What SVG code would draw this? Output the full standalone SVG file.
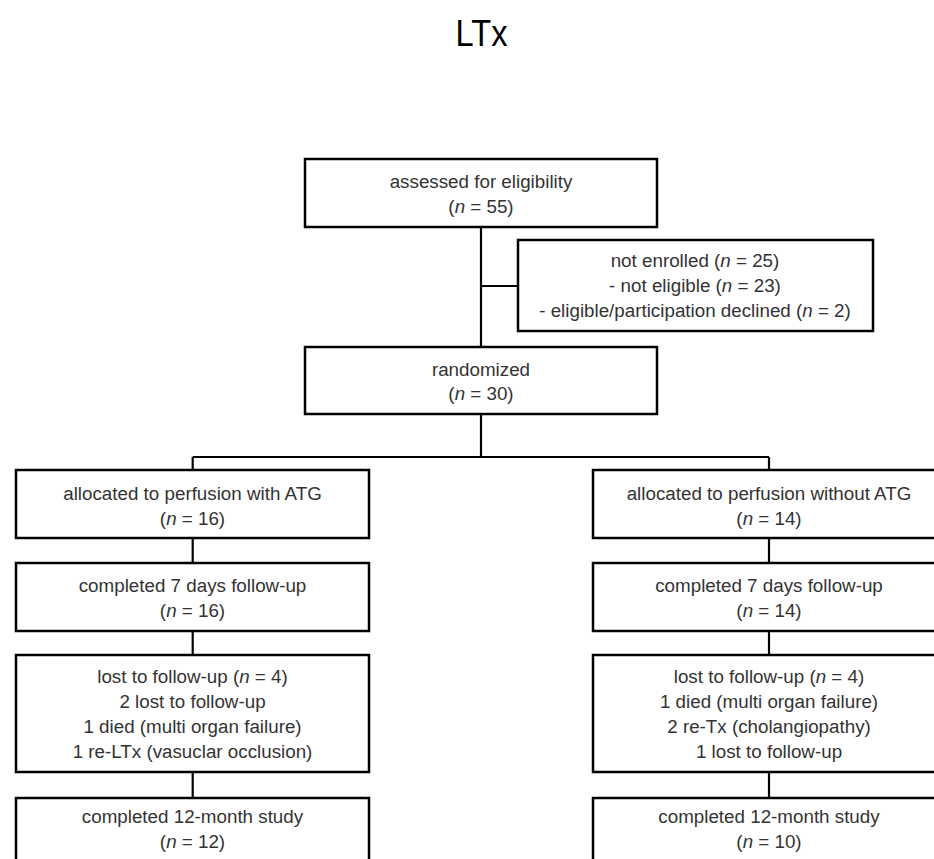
<svg xmlns="http://www.w3.org/2000/svg" width="934" height="859" viewBox="0 0 934 859">
<style>
.box{fill:#fff;stroke:#000;stroke-width:2.5}
.ln{fill:none;stroke:#000;stroke-width:2.2}
text{font-family:"Liberation Sans",Arial,sans-serif;font-size:18.8px;fill:#333;text-anchor:middle}
.t{font-size:37px;fill:#000}
.i{font-style:italic}
</style>
<rect width="934" height="859" fill="#fff"/>
<text class="t" x="481.5" y="46" textLength="52" lengthAdjust="spacingAndGlyphs">LTx</text>
<g id="connectors">
<path class="ln" d="M481 227V347M481 286H518M481 414V457M192.7 457H769M192.7 457V470M769 457V470M192.7 538V563M192.7 631V655M192.7 772V798M769 538V563M769 631V655M769 772V798"/>
</g>
<g id="assessed">
<rect class="box" x="305" y="159" width="352" height="68"/>
<text x="481" y="188">assessed for eligibility</text>
<text x="481" y="213">(<tspan class="i">n</tspan> = 55)</text>
</g>
<g id="not-enrolled">
<rect class="box" x="518" y="240" width="355" height="91"/>
<text x="695" y="267">not enrolled (<tspan class="i">n</tspan> = 25)</text>
<text x="695" y="292">- not eligible (<tspan class="i">n</tspan> = 23)</text>
<text x="695" y="317">- eligible/participation declined (<tspan class="i">n</tspan> = 2)</text>
</g>
<g id="randomized">
<rect class="box" x="305" y="347" width="352" height="67"/>
<text x="481" y="376">randomized</text>
<text x="481" y="400">(<tspan class="i">n</tspan> = 30)</text>
</g>
<g id="alloc-atg">
<rect class="box" x="16" y="470" width="353" height="68"/>
<text x="192.5" y="500">allocated to perfusion with ATG</text>
<text x="192.5" y="525">(<tspan class="i">n</tspan> = 16)</text>
</g>
<g id="d7-atg">
<rect class="box" x="16" y="563" width="353" height="68"/>
<text x="192.5" y="592">completed 7 days follow-up</text>
<text x="192.5" y="617">(<tspan class="i">n</tspan> = 16)</text>
</g>
<g id="lost-atg">
<rect class="box" x="16" y="655" width="353" height="117"/>
<text x="192.5" y="683">lost to follow-up (<tspan class="i">n</tspan> = 4)</text>
<text x="192.5" y="708">2 lost to follow-up</text>
<text x="192.5" y="733">1 died (multi organ failure)</text>
<text x="192.5" y="758">1 re-LTx (vasuclar occlusion)</text>
</g>
<g id="m12-atg">
<rect class="box" x="16" y="798" width="353" height="80"/>
<text x="192.5" y="823">completed 12-month study</text>
<text x="192.5" y="848">(<tspan class="i">n</tspan> = 12)</text>
</g>
<g id="alloc-no">
<rect class="box" x="593" y="470" width="353" height="68"/>
<text x="769" y="500">allocated to perfusion without ATG</text>
<text x="769" y="525">(<tspan class="i">n</tspan> = 14)</text>
</g>
<g id="d7-no">
<rect class="box" x="593" y="563" width="353" height="68"/>
<text x="769" y="592">completed 7 days follow-up</text>
<text x="769" y="617">(<tspan class="i">n</tspan> = 14)</text>
</g>
<g id="lost-no">
<rect class="box" x="593" y="655" width="353" height="117"/>
<text x="769" y="683">lost to follow-up (<tspan class="i">n</tspan> = 4)</text>
<text x="769" y="708">1 died (multi organ failure)</text>
<text x="769" y="733">2 re-Tx (cholangiopathy)</text>
<text x="769" y="758">1 lost to follow-up</text>
</g>
<g id="m12-no">
<rect class="box" x="593" y="798" width="353" height="80"/>
<text x="769" y="823">completed 12-month study</text>
<text x="769" y="848">(<tspan class="i">n</tspan> = 10)</text>
</g>
</svg>
